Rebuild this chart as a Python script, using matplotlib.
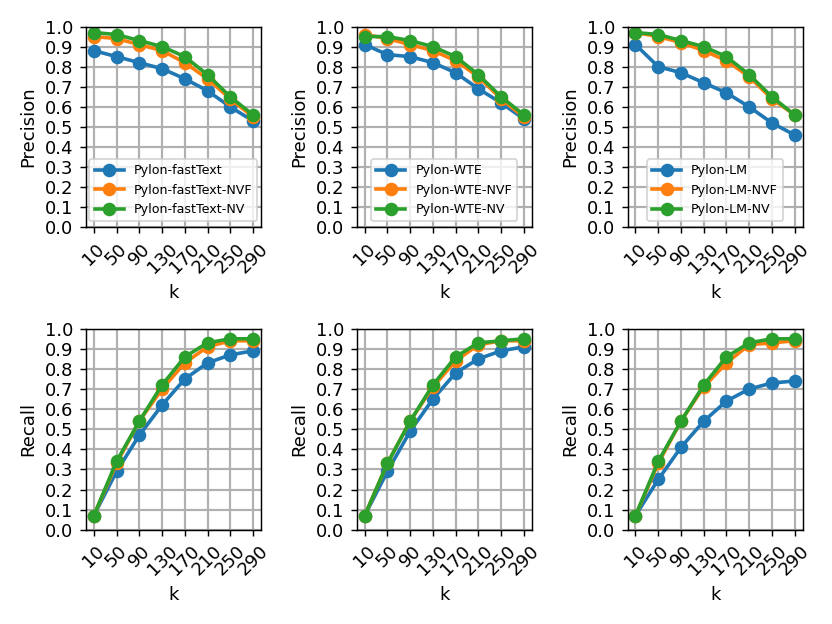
import matplotlib
matplotlib.use("Agg")
import matplotlib.pyplot as plt
import numpy as np

k = [10, 50, 90, 130, 170, 210, 250, 290]

# precision
prec_fasttext = [0.88, 0.85, 0.82, 0.79, 0.74, 0.68, 0.60, 0.53]
prec_fasttext_nvf = [0.95, 0.94, 0.91, 0.88, 0.82, 0.74, 0.64, 0.55]
prec_fasttext_nv = [0.97, 0.96, 0.93, 0.90, 0.85, 0.76, 0.65, 0.56]

prec_wte = [0.91, 0.86, 0.85, 0.82, 0.77, 0.69, 0.62, 0.54]
prec_wte_nvf = [0.96, 0.94, 0.91, 0.88, 0.83, 0.75, 0.64, 0.55]
prec_wte_nv = [0.95, 0.95, 0.93, 0.90, 0.85, 0.76, 0.65, 0.56]

prec_lm = [0.91, 0.80, 0.77, 0.72, 0.67, 0.60, 0.52, 0.46]
prec_lm_nvf = [0.97, 0.95, 0.92, 0.88, 0.83, 0.75, 0.64, 0.56]
prec_lm_nv = [0.97, 0.96, 0.93, 0.90, 0.85, 0.76, 0.65, 0.56]

# recall
rec_fasttext = [0.07, 0.29, 0.47, 0.62, 0.75, 0.83, 0.87, 0.89]
rec_fasttext_nvf = [0.07, 0.33, 0.54, 0.70, 0.83, 0.91, 0.94, 0.94]
rec_fasttext_nv = [0.07, 0.34, 0.54, 0.72, 0.86, 0.93, 0.95, 0.95]

rec_wte = [0.07, 0.29, 0.49, 0.65, 0.78, 0.85, 0.89, 0.91]
rec_wte_nvf = [0.07, 0.33, 0.54, 0.71, 0.84, 0.92, 0.94, 0.94]
rec_wte_nv = [0.07, 0.33, 0.54, 0.72, 0.86, 0.93, 0.94, 0.95]

rec_lm = [0.07, 0.25, 0.41, 0.54, 0.64, 0.70, 0.73, 0.74]
rec_lm_nvf = [0.07, 0.33, 0.54, 0.71, 0.83, 0.92, 0.93, 0.94]
rec_lm_nv = [0.07, 0.34, 0.54, 0.72, 0.86, 0.93, 0.95, 0.95]

names = ["Pylon-fastText", "Pylon-WTE", "Pylon-LM"]
precision = [
    (prec_fasttext, prec_fasttext_nvf, prec_fasttext_nv),
    (prec_wte, prec_wte_nvf, prec_wte_nv),
    (prec_lm, prec_lm_nvf, prec_lm_nv),
]
recall = [
    (rec_fasttext, rec_fasttext_nvf, rec_fasttext_nv),
    (rec_wte, rec_wte_nvf, rec_wte_nv),
    (rec_lm, rec_lm_nvf, rec_lm_nv),
]

fig, axes = plt.subplots(2, 3, figsize=(6.4, 4.8), dpi=130)

for col, name in enumerate(names):
    for row, (data, ylabel) in enumerate([(precision, "Precision"), (recall, "Recall")]):
        ax = axes[row, col]
        base, nvf, nv = data[col]
        ax.plot(k, base, marker="o", markersize=6.5, linewidth=2, label=name)
        ax.plot(k, nvf, marker="o", markersize=6.5, linewidth=2, label=name + "-NVF")
        ax.plot(k, nv, marker="o", markersize=6.5, linewidth=2, label=name + "-NV")
        ax.set_xticks(k)
        ax.set_xticklabels([str(v) for v in k], rotation=45)
        ax.set_yticks(np.arange(0, 1.01, 0.1))
        ax.set_ylim(0, 1.0)
        ax.set_xlabel("k")
        ax.set_ylabel(ylabel)
        ax.grid(True, linewidth=1.2)
        if row == 0:
            ax.legend(loc="lower center", fontsize=7, handlelength=2.3)

fig.tight_layout()
fig.savefig("out.png", dpi=130)
